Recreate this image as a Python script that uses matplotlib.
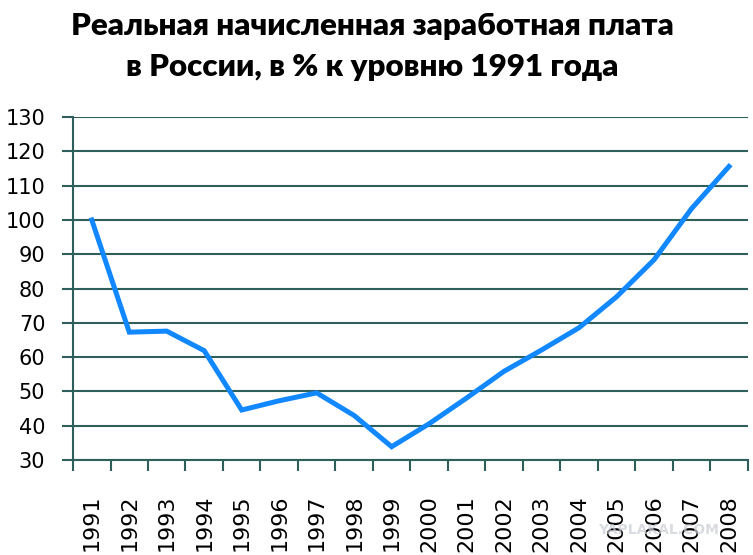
import matplotlib.pyplot as plt

# Real accrued wages in Russia, % of 1991 level
years = ['1991', '1992', '1993', '1994', '1995', '1996', '1997', '1998', '1999',
         '2000', '2001', '2002', '2003', '2004', '2005', '2006', '2007', '2008']
wage_pct = [100, 67.3, 67.6, 61.9, 44.6, 47.3, 49.6, 43.0, 33.9,
            40.6, 48.1, 55.9, 62.1, 68.6, 77.6, 88.4, 103.3, 115.6]
y_ticks = list(range(30, 131, 10))

title_lines = ['Реальная начисленная заработная плата',
               'в России, в % к уровню 1991 года']

grid_col = '#2f5f5a'
line_col = '#1188ff'

fig = plt.figure(figsize=(7.53, 5.55), dpi=100)
ax = fig.add_axes([0.097, 0.171, 0.896, 0.618])

x = list(range(len(years)))
ax.plot(x, wage_pct, color=line_col, linewidth=3.6, solid_joinstyle='miter', zorder=3)

ax.set_xlim(-0.5, len(years) - 0.5)
ax.set_ylim(30, 130)
ax.set_yticks(y_ticks)
ax.set_yticklabels([str(v) for v in y_ticks], fontsize=15)
for v in y_ticks:
    ax.axhline(v, color=grid_col, linewidth=1.5, zorder=1)

# category labels centred, tick marks between categories
ax.set_xticks(x)
ax.set_xticklabels(years, rotation=90, fontsize=16)
ax.tick_params(axis='x', which='major', length=0, pad=25)
ax.set_xticks([i - 0.5 for i in range(len(years) + 1)], minor=True)
ax.tick_params(axis='x', which='minor', length=8, width=1.5, color=grid_col, direction='out')
ax.tick_params(axis='y', length=8, width=1.5, color=grid_col, pad=12)

for s in ['top', 'right']:
    ax.spines[s].set_visible(False)
for s in ['left', 'bottom']:
    ax.spines[s].set_color(grid_col)
    ax.spines[s].set_linewidth(1.5)

fig.text(0.495, 0.953, title_lines[0], ha='center', va='center',
         fontsize=22.5, fontweight='heavy', family='Lato')
fig.text(0.495, 0.879, title_lines[1], ha='center', va='center',
         fontsize=22.5, fontweight='heavy', family='Lato')

fig.text(0.875, 0.045, 'YAPLAKAL.COM', ha='center', va='center',
         fontsize=10, fontweight='bold', color='#c8ccd4', alpha=0.7)

fig.savefig('out.png', dpi=100)
